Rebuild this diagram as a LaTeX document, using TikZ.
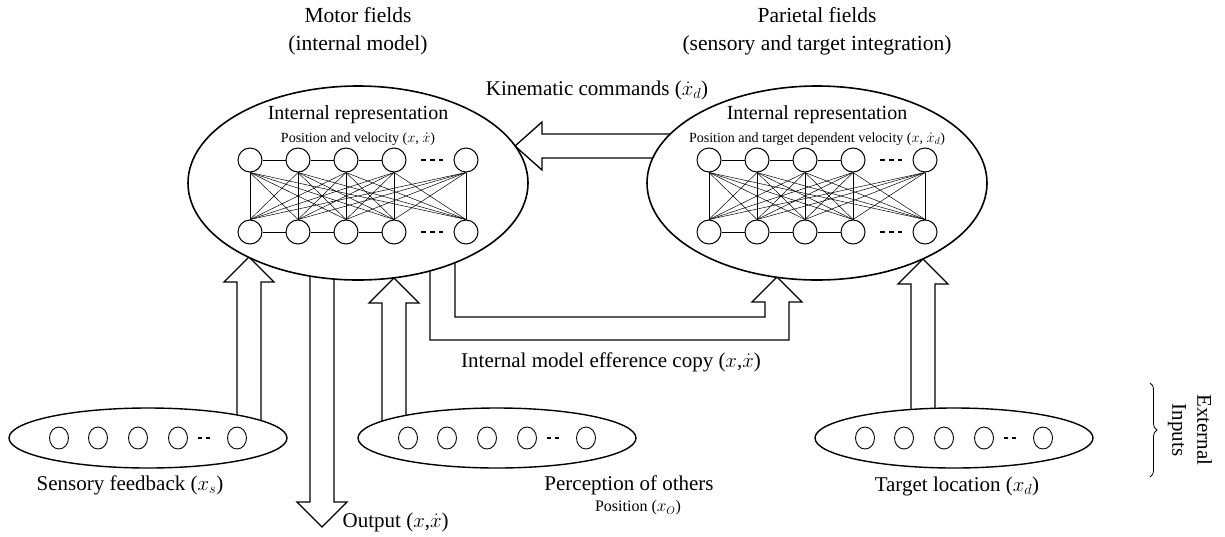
\documentclass[tikz,border=0pt]{standalone}
\usepackage{fontspec}
\setmainfont{Liberation Serif}
\usepackage{tikz}
\usetikzlibrary{shapes.geometric,calc,backgrounds,decorations.pathreplacing}
\newcommand{\blockup}[2]{% tip, shaft length
  \draw[fat] ($(#1)+(-12,#2)$) -- ($(#1)+(-12,25)$) -- ($(#1)+(-25,25)$) -- (#1)
    -- ($(#1)+(25,25)$) -- ($(#1)+(12,25)$) -- ($(#1)+(12,#2)$);}

\begin{document}
\begin{tikzpicture}[x=1pt, y=-1pt, inner sep=0.5pt, font=\fontsize{21}{25}\selectfont]
  \tikzstyle{field}=[draw, ellipse, line width=1.6pt, fill=white, inner sep=0pt, minimum width=340pt, minimum height=194pt]
  \tikzstyle{inputfield}=[draw, ellipse, line width=1.4pt, fill=white, inner sep=0pt, minimum width=278pt, minimum height=60pt]
  \tikzstyle{neuron}=[draw, circle, line width=1pt, inner sep=0pt, minimum size=24pt, fill=white]
  \tikzstyle{inneuron}=[draw, ellipse, line width=0.9pt, inner sep=0pt, minimum width=19pt, minimum height=22pt]
  \tikzstyle{net}=[line width=0.5pt]
  \tikzstyle{fat}=[line width=1.3pt, line join=miter]
  \tikzstyle{small}=[font=\fontsize{14}{16}\selectfont]

  \useasboundingbox (0,0) rectangle (1225,536);

  \node[field] (motor) at (358,183) {};
  \node[field] (parietal) at (817,183) {};
  \node[inputfield] (sensory) at (148,438) {};
  \node[inputfield] (others) at (497,438) {};
  \node[inputfield] (target) at (954,438) {};

  % two-layer networks
  \foreach \f in {motor,parietal}{
    \foreach \i/\dx in {1/-108,2/-60,3/-12,4/36,5/108}{
      \node[neuron] (\f t\i) at ($(\f)+(\dx,-23)$) {};
      \node[neuron] (\f b\i) at ($(\f)+(\dx,49)$) {};
    }
    \foreach \i in {1,...,5}{
      \foreach \j in {1,...,5}{
        \draw[net] (\f t\i.south) -- (\f b\j.north);
      }
    }
    \foreach \i/\j in {1/2,2/3,3/4}{
      \draw[net] (\f t\i) -- (\f t\j);
      \draw[net] (\f b\i) -- (\f b\j);
    }
    \draw[line width=2pt, dash pattern=on 5pt off 4pt] ($(\f t4)+(27,0)$) -- ++(22,0);
    \draw[line width=2pt, dash pattern=on 5pt off 4pt] ($(\f b4)+(27,0)$) -- ++(22,0);
    \node[font=\fontsize{20}{24}\selectfont] at ($(\f)+(0,-68)$) {Internal representation};
  }
  \node[small] at ($(motor)+(0,-44)$) {Position and velocity ($x$, $\dot{x}$)};
  \node[small] at ($(parietal)+(0,-44)$) {Position and target dependent velocity ($x$, $\dot{x}_d$)};

  % input layers
  \foreach \l in {sensory,others,target}{
    \foreach \i/\dx in {1/-89,2/-50,3/-10,4/30,5/89}
      \node[inneuron] (\l\i) at ($(\l)+(\dx,0)$) {};
    \draw[line width=1.8pt, dash pattern=on 4pt off 4pt] ($(\l4)+(20,0)$) -- ++(13,0);
  }

  \coordinate (sftip) at ($(motor)+(-109,74)$);
  \coordinate (potip) at ($(motor)+(36,95)$);
  \coordinate (outtip) at ($(motor)+(-36,344)$);
  \coordinate (kctip) at ($(motor)+(157,-37)$);
  \coordinate (eftip) at ($(parietal)+(-40,94)$);
  \coordinate (tltip) at ($(parietal)+(106,76)$);

  \begin{scope}[on background layer]
    \blockup{sftip}{183}
    \blockup{potip}{160}
    \blockup{tltip}{180}
    \draw[fat] ($(outtip)+(-12,-280)$) -- ($(outtip)+(-12,-25)$) -- ($(outtip)+(-25,-25)$) -- (outtip)
      -- ($(outtip)+(25,-25)$) -- ($(outtip)+(12,-25)$) -- ($(outtip)+(12,-280)$);
    \draw[fat] ($(kctip)+(185,-12)$) -- ($(kctip)+(27,-12)$) -- ($(kctip)+(27,-24)$) -- (kctip)
      -- ($(kctip)+(27,24)$) -- ($(kctip)+(27,12)$) -- ($(kctip)+(185,12)$);
    \draw[fat] ($(motor)+(97,50)$) |- ($(eftip)+(-12,40)$) -- ($(eftip)+(-12,25)$) -- ($(eftip)+(-25,25)$) -- (eftip)
      -- ($(eftip)+(25,25)$) -- ($(eftip)+(12,25)$) -- ($(eftip)+(12,63)$) -| ($(motor)+(72,50)$);
  \end{scope}

  % labels
  \node[align=center, font=\fontsize{21.5}{28}\selectfont] at ($(motor)+(0,-152)$) {Motor fields\\(internal model)};
  \node[align=center, font=\fontsize{21.5}{28}\selectfont] at ($(parietal)+(0,-152)$) {Parietal fields\\(sensory and target integration)};
  \node at ($(kctip)+(82,-56)$) {Kinematic commands ($\dot{x}_d$)};
  \node at ($(eftip)+(-166,85)$) {Internal model efference copy ($x$,$\dot{x}$)};
  \node at ($(sensory)+(-18,47)$) {Sensory feedback ($x_s$)};
  \node[anchor=west] at ($(outtip)+(20,-5)$) {Output ($x$,$\dot{x}$)};
  \node at ($(others)+(132,47)$) {Perception of others};
  \node[font=\fontsize{16}{19}\selectfont] at ($(others)+(141,70)$) {Position ($x_O$)};
  \node at ($(target)+(3,48)$) {Target location ($x_d$)};

  \draw[decorate, decoration={brace, amplitude=7pt}, line width=0.8pt] (1150,383) -- (1150,477);
  \node[align=center, rotate=-90, font=\fontsize{21}{25}\selectfont] at (1190,430) {External\\Inputs};
\end{tikzpicture}
\end{document}
